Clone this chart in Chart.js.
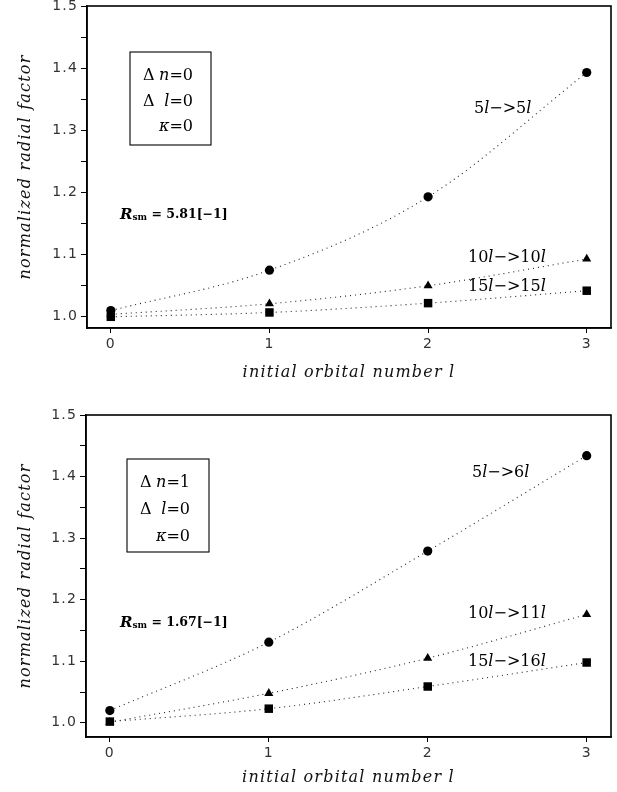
<!DOCTYPE html>
<html><head><meta charset="utf-8">
<script src="https://cdn.jsdelivr.net/npm/chart.js@4/dist/chart.umd.min.js"></script>
<style>
html,body{margin:0;padding:0;background:#fff;}
#wrap{position:relative;width:617px;height:792px;overflow:hidden;}
canvas{position:absolute;left:0;}
</style></head><body>
<div id="wrap">
<canvas id="c1" width="617" height="396" style="top:0px"></canvas>
<canvas id="c2" width="617" height="396" style="top:396px"></canvas>
</div>
<script>
// ---- data ----
const orbitalL = [0, 1, 2, 3];
const xTickValues = [0, 1, 2, 3];
const yTickValues = [1.0, 1.05, 1.1, 1.15, 1.2, 1.25, 1.3, 1.35, 1.4, 1.45, 1.5];

const top5to5   = [1.010, 1.075, 1.193, 1.393];
const top10to10 = [1.004, 1.021, 1.050, 1.093];
const top15to15 = [1.000, 1.007, 1.022, 1.042];
const topNames  = ['5l->5l', '10l->10l', '15l->15l'];
const topBox    = ['Δn=0', 'Δl=0', 'κ=0'];
const topRsm    = '5.81[−1]';

const bot5to6   = [1.020, 1.131, 1.279, 1.434];
const bot10to11 = [1.001, 1.048, 1.105, 1.176];
const bot15to16 = [1.002, 1.023, 1.059, 1.098];
const botNames  = ['5l->6l', '10l->11l', '15l->16l'];
const botBox    = ['Δn=1', 'Δl=0', 'κ=0'];
const botRsm    = '1.67[−1]';

const yTitle = 'normalized radial factor';
const xTitle = 'initial orbital number l';

// ---- helpers ----
const SERIF = "'DejaVu Serif', serif";
const SANS = "'DejaVu Sans', sans-serif";

function drawSegs(ctx, x, y, segs, align) {
  // segs: [text, style, size, dy]
  let total = 0;
  segs.forEach(s => { ctx.font = s[1] + ' ' + s[2] + 'px ' + SERIF; total += ctx.measureText(s[0]).width; });
  let cx = align === 'right' ? x - total : x;
  ctx.textBaseline = 'middle';
  ctx.textAlign = 'left';
  segs.forEach(s => {
    ctx.font = s[1] + ' ' + s[2] + 'px ' + SERIF;
    ctx.fillText(s[0], cx, y + (s[3] || 0));
    cx += ctx.measureText(s[0]).width;
  });
}

// split a name like "10l->11l" into roman / italic segments
function nameSegs(name, size) {
  const out = [];
  const parts = name.split('->');
  parts.forEach((p, i) => {
    const num = p.replace('l', '');
    out.push([num, 'normal', size]);
    out.push(['l', 'italic', size]);
    if (i === 0) out.push(['−>', 'normal', size]);
  });
  return out;
}

function boxSegs(txt, size) {
  if (txt[0] === 'Δ') {
    return { delta: true, rest: [[txt[1], 'italic', size], [txt.slice(2), 'normal', size]] };
  }
  return { delta: false, rest: [[txt[0], 'italic', size], [txt.slice(1), 'normal', size]] };
}

function makePanel(id, series, names, boxTexts, rsm, geo) {
  const markers = ['circle', 'triangle', 'rect'];
  const radii = [4.6, 5.2, 6.0];
  const datasets = series.map((vals, i) => ({
    label: names[i],
    data: orbitalL.map((x, k) => ({ x: x, y: vals[k] })),
    borderColor: '#222',
    borderWidth: 1.1,
    borderDash: [1, 4],
    pointStyle: markers[i],
    pointRadius: radii[i],
    pointBackgroundColor: '#000',
    pointBorderColor: '#000',
    pointBorderWidth: 0,
    cubicInterpolationMode: 'monotone',
    fill: false
  }));

  const annot = {
    id: 'annot' + id,
    beforeDraw(chart) {
      chart.ctx.letterSpacing = '1.2px';
    },
    afterDraw(chart) {
      const ctx = chart.ctx;
      const a = chart.chartArea;
      ctx.save();
      ctx.letterSpacing = '0px';
      ctx.strokeStyle = '#000';
      ctx.lineWidth = 1.6;
      ctx.strokeRect(a.left, a.top, a.right - a.left, a.bottom - a.top);
      // parameter box
      const b = geo.box;
      ctx.lineWidth = 1.1;
      ctx.strokeRect(b.l, b.t, b.r - b.l, b.b - b.t);
      ctx.fillStyle = '#000';
      boxTexts.forEach((t, i) => {
        const s = boxSegs(t, 16);
        const y = b.lines[i];
        drawSegs(ctx, b.textR, y, s.rest, 'right');
        if (s.delta) drawSegs(ctx, b.textL, y, [['Δ', 'normal', 16]], 'left');
      });
      // series names
      geo.names.forEach((p, i) => {
        drawSegs(ctx, p[0], p[1], nameSegs(names[i], 16), 'left');
      });
      // R_sm
      drawSegs(ctx, geo.rsm[0], geo.rsm[1], [
        ['R', 'italic bold', 15, 0],
        ['sm', 'bold', 9, 3],
        [' = ' + rsm, 'bold', 12.5, 0]
      ], 'left');
      ctx.restore();
      ctx.letterSpacing = '0px';
    }
  };

  return new Chart(document.getElementById(id), {
    type: 'line',
    data: { datasets },
    plugins: [annot],
    options: {
      responsive: false,
      animation: false,
      devicePixelRatio: 1,
      layout: { padding: { left: 0, right: 617 - geo.right, top: geo.top, bottom: 0 } },
      plugins: { legend: { display: false }, tooltip: { enabled: false } },
      scales: {
        x: {
          type: 'linear',
          min: geo.xMin, max: geo.xMax,
          afterBuildTicks: s => { s.ticks = xTickValues.map(v => ({ value: v })); },
          afterFit: s => { s.height = 396 - geo.bottom; s.paddingLeft = 0; s.paddingRight = 0; },
          grid: { display: true, drawOnChartArea: false, drawTicks: true, tickLength: 5, color: '#000', lineWidth: 1 },
          border: { display: true, color: '#000', width: 1.5 },
          ticks: { color: '#333', padding: 3, font: { family: SANS, size: 14 }, maxRotation: 0,
                   callback: v => String(v) },
          title: { display: true, text: xTitle, color: '#111',
                   font: { family: SERIF, size: 16, style: 'italic' },
                   padding: { top: 0, bottom: geo.xTitlePad } }
        },
        y: {
          type: 'linear',
          min: geo.yMin, max: 1.5,
          afterBuildTicks: s => { s.ticks = yTickValues.map(v => ({ value: v })); },
          afterFit: s => { s.width = geo.left; s.paddingTop = 0; s.paddingBottom = 0; },
          grid: { display: true, drawOnChartArea: false, drawTicks: true, tickLength: 6, color: '#000', lineWidth: 1 },
          border: { display: true, color: '#000', width: 1.5 },
          ticks: { color: '#333', padding: 3, font: { family: SANS, size: 14 },
                   callback: v => (Math.round(v * 100) % 10 === 0 ? v.toFixed(1) : '') },
          title: { display: true, text: yTitle, color: '#111',
                   font: { family: SERIF, size: 16, style: 'italic' },
                   padding: { top: 16.4, bottom: 0 } }
        }
      }
    }
  });
}

makePanel('c1', [top5to5, top10to10, top15to15], topNames, topBox, topRsm, {
  left: 87, right: 612, top: 6, bottom: 328, xMin: -0.15, xMax: 3.153, yMin: 0.982,
  xTitlePad: 13.4,
  box: { l: 130, t: 52, r: 211, b: 145, lines: [76, 102, 127], textL: 143, textR: 193 },
  names: [[474, 109], [468, 258], [468, 287]],
  rsm: [120, 215]
});

makePanel('c2', [bot5to6, bot10to11, bot15to16], botNames, botBox, botRsm, {
  left: 86, right: 611, top: 19, bottom: 341, xMin: -0.15, xMax: 3.153, yMin: 0.977,
  xTitlePad: 4.4,
  box: { l: 127, t: 63, r: 209, b: 156, lines: [87, 114, 141], textL: 140, textR: 190 },
  names: [[472, 77], [468, 218], [468, 266]],
  rsm: [120, 227]
});
</script>
</body></html>
